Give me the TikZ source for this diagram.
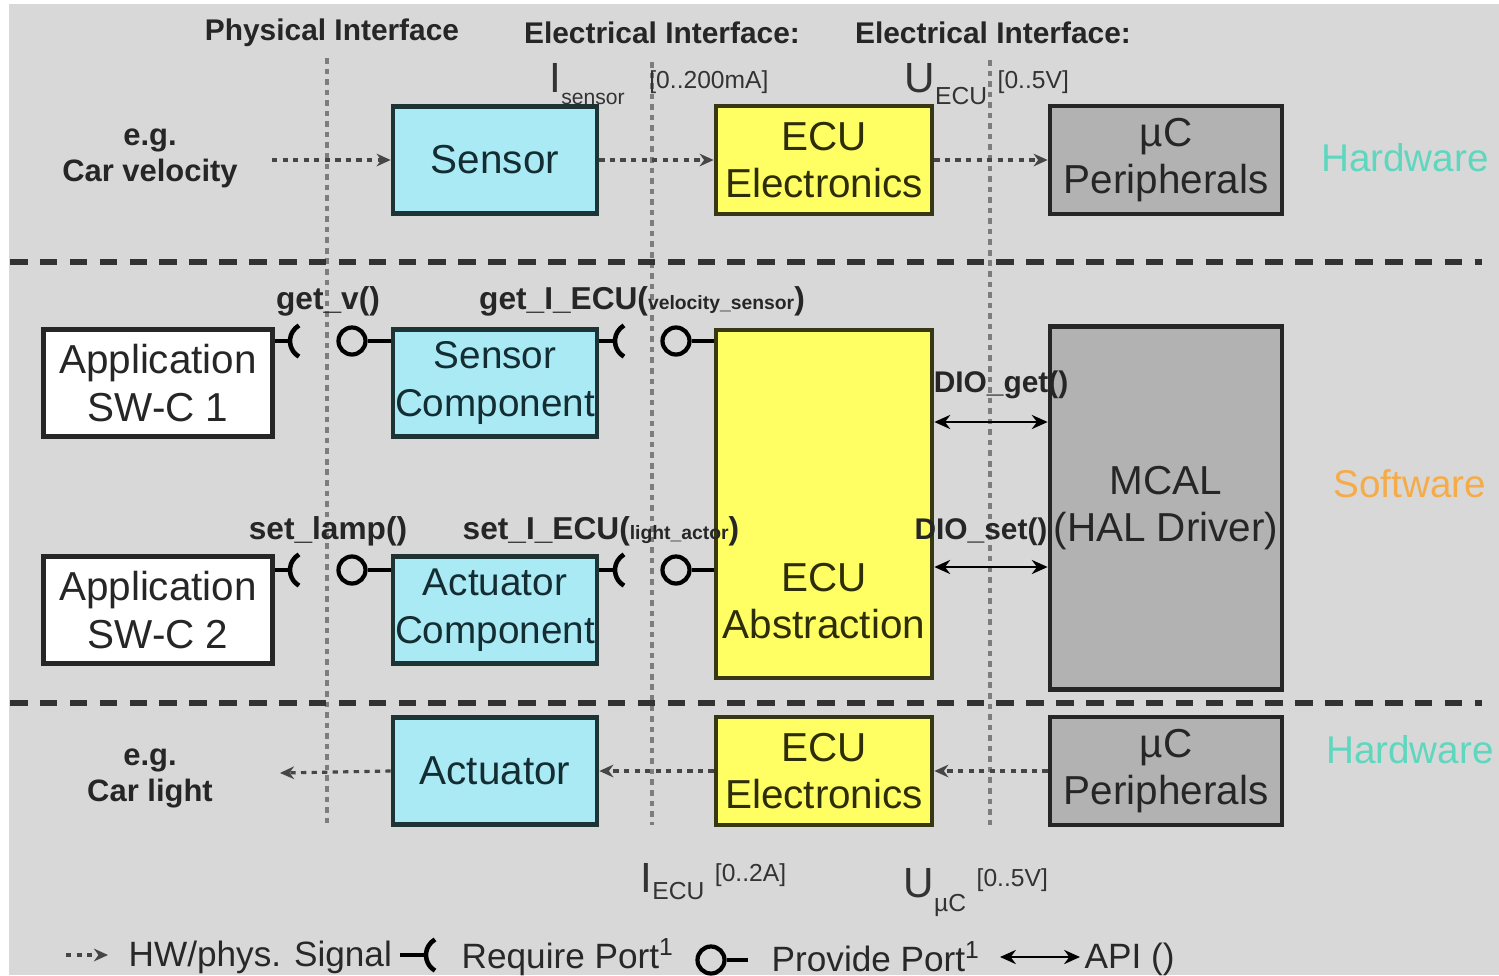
\documentclass[tikz,border=0pt]{standalone}
\usepackage{fontspec}
\setmainfont{Liberation Sans}
\usetikzlibrary{
    arrows.meta,
    positioning,
    calc
}
\definecolor{bgPage}{RGB}{216, 216, 216}
\definecolor{bgCyan}{RGB}{170, 234, 245}
\definecolor{borderCyan}{RGB}{30, 52, 52}
\definecolor{textCyan}{RGB}{20, 45, 50}
\definecolor{bgYellow}{RGB}{255, 255, 100}
\definecolor{borderYellow}{RGB}{55, 55, 20}
\definecolor{textYellow}{RGB}{45, 45, 10}
\definecolor{bgMcu}{RGB}{178, 178, 178}
\definecolor{borderDark}{RGB}{38, 38, 38}
\definecolor{colorHardware}{RGB}{95, 215, 190}
\definecolor{colorSoftware}{RGB}{245, 172, 72}
\definecolor{guideGray}{RGB}{125, 125, 125}
\definecolor{signalGray}{RGB}{70, 70, 70}
\definecolor{layerDark}{RGB}{50, 50, 50}
\definecolor{legendGray}{RGB}{40, 40, 40}
\tikzset{
    boxBase/.style={
        rectangle, line width=1.3pt,
        align=center, inner sep=0pt,
        font=\fontsize{11.5}{13.6}\selectfont
    },
    boxSensor/.style={
        boxBase, draw=borderCyan, fill=bgCyan, text=textCyan,
        minimum width=2.04cm, minimum height=1.07cm
    },
    boxComp/.style={
        boxSensor, font=\fontsize{11}{13.6}\selectfont
    },
    boxEcu/.style={
        boxBase, draw=borderYellow, fill=bgYellow, text=textYellow,
        minimum width=2.16cm, minimum height=1.08cm
    },
    boxMcu/.style={
        boxBase, draw=borderDark, fill=bgMcu, text=black!85,
        minimum width=2.32cm, minimum height=1.08cm
    },
    boxApp/.style={
        boxBase, draw=borderDark, fill=white, text=black!85,
        minimum width=2.29cm, minimum height=1.07cm
    },
    signalArrow/.style={
        -{Stealth[length=4pt,width=3.6pt]},
        line width=0.9pt, color=signalGray,
        dash pattern=on 1.5pt off 1.5pt
    },
    apiArrow/.style={
        {Stealth[length=4.5pt,width=4pt]}-{Stealth[length=4.5pt,width=4pt]},
        line width=0.8pt, color=black
    },
    portLine/.style={line width=1.3pt, color=black},
    providePort/.style={
        circle, draw=black, line width=1.2pt,
        minimum size=0.27cm, inner sep=0pt
    },
    guideLine/.style={
        line width=0.9pt, color=guideGray,
        dash pattern=on 1.6pt off 1.4pt
    },
    layerLine/.style={
        line width=1.5pt, color=layerDark,
        dash pattern=on 5pt off 3.5pt
    },
    headerLabel/.style={font=\fontsize{8.5}{10}\selectfont\bfseries, text=black!85},
    portLabel/.style={font=\fontsize{9}{10}\selectfont\bfseries, inner sep=0pt, text=black!85},
    layerLabel/.style={font=\fontsize{11}{13}\selectfont},
    exampleLabel/.style={
        font=\fontsize{8.8}{10.2}\selectfont\bfseries,
        align=center, text=black!85
    },
    quantityLabel/.style={anchor=base west, inner sep=0pt, text=black!80},
    legendLabel/.style={
        font=\fontsize{10}{12}\selectfont,
        anchor=west, inner sep=0pt, text=legendGray
    },
}

\begin{document}
\begin{tikzpicture}[x=0.01cm, y=-0.01cm]

    % ----------------------------------------------------------
    % FONDO (coordenadas en pixeles, y hacia abajo)
    % ----------------------------------------------------------
    \useasboundingbox (0,0) rectangle (1499,975);
    \fill[white] (0,0) rectangle (1499,975);
    \fill[bgPage] (9,4) rectangle (1499,975);

    % lineas guia verticales
    \draw[guideLine] (327,58) -- (327,825);
    \draw[guideLine] (652,62) -- (652,825);
    \draw[guideLine] (990,60) -- (990,825);

    % separadores de capa
    \draw[layerLine] (10,262) -- (1482,262);
    \draw[layerLine] (10,703) -- (1482,703);

    % ----------------------------------------------------------
    % CABECERAS
    % ----------------------------------------------------------
    \node[headerLabel] at (332,33) (hdrPhys)  {Physical Interface};
    \node[headerLabel] at (662,33) (hdrElecA) {Electrical Interface:};
    \node[headerLabel] at (993,33) (hdrElecB) {Electrical Interface:};

    \node[quantityLabel] at (549,92) (iSensor)
        {\fontsize{12}{14}\selectfont I\raisebox{-3.5pt}{\fontsize{6}{7}\selectfont sensor}\hspace{7pt}\raisebox{1pt}{\fontsize{7}{8}\selectfont[0..200mA]}};
    \node[quantityLabel] at (904,92) (uEcu)
        {\fontsize{12}{14}\selectfont U\raisebox{-3.5pt}{\fontsize{7}{8}\selectfont ECU}\hspace{3pt}\raisebox{1pt}{\fontsize{7}{8}\selectfont[0..5V]}};
    \node[quantityLabel] at (640,892) (iEcu)
        {\fontsize{12}{14}\selectfont I\raisebox{-2pt}{\fontsize{7}{8}\selectfont ECU}\hspace{3pt}\raisebox{3pt}{\fontsize{7}{8}\selectfont[0..2A]}};
    \node[quantityLabel] at (903,897) (uMc)
        {\fontsize{12}{14}\selectfont U\raisebox{-4pt}{\fontsize{7}{8}\selectfont µC}\hspace{3pt}\raisebox{3pt}{\fontsize{7}{8}\selectfont[0..5V]}};

    % ----------------------------------------------------------
    % HARDWARE (entrada)
    % ----------------------------------------------------------
    \node[exampleLabel] at (150,158) (carVelocity) {e.g.\\Car velocity};
    \node[boxSensor]    at (495,160) (sensor)      {Sensor};
    \node[boxEcu]       at (824,160) (ecuIn)       {ECU\\Electronics};
    \node[boxMcu]       at (1166,160) (mcuIn)      {µC\\Peripherals};
    \node[layerLabel, text=colorHardware] at (1405,158) (hwTop) {Hardware};

    \coordinate (velocitySrc) at (272,160);
    \draw[signalArrow] (velocitySrc)  -- (sensor.west);
    \draw[signalArrow] (sensor.east)  -- (ecuIn.west);
    \draw[signalArrow] (ecuIn.east)   -- (mcuIn.west);

    % ----------------------------------------------------------
    % SOFTWARE
    % ----------------------------------------------------------
    \node[boxApp]  at (158,383) (appOne)    {Application\\SW-C 1};
    \node[boxComp] at (495,383) (sensorComp){Sensor\\Component};
    \node[boxApp]  at (158,610) (appTwo)    {Application\\SW-C 2};
    \node[boxComp] at (495,610) (actorComp) {Actuator\\Component};
    \node[boxEcu, minimum height=3.48cm] at (824,504) (ecuAbs) {};
    \node[boxBase, text=textYellow] at (824,601) (ecuAbsText) {ECU\\Abstraction};
    \node[boxMcu, minimum height=3.63cm] at (1166,508) (mcal) {MCAL\\(HAL Driver)};
    \node[layerLabel, text=colorSoftware] at (1410,484) (swMid) {Software};

    % ---- puertos fila 1 ----
    \coordinate (reqGetV)  at (290,341);
    \coordinate (reqGetI)  at (615,341);
    \node[providePort] at (352,341) (provGetV) {};
    \node[providePort] at (676,341) (provGetI) {};
    \draw[portLine] (appOne.east |- reqGetV) -- (reqGetV);
    \draw[portLine] (reqGetV) ++(9,15.6) arc[start angle=120, end angle=240, radius=18];
    \draw[portLine] (provGetV.east) -- (sensorComp.west |- provGetV);
    \draw[portLine] (sensorComp.east |- reqGetI) -- (reqGetI);
    \draw[portLine] (reqGetI) ++(9,15.6) arc[start angle=120, end angle=240, radius=18];
    \draw[portLine] (provGetI.east) -- (ecuAbs.west |- provGetI);

    % ---- puertos fila 2 ----
    \coordinate (reqSetLamp) at (290,570);
    \coordinate (reqSetI)    at (615,570);
    \node[providePort] at (352,570) (provSetLamp) {};
    \node[providePort] at (676,570) (provSetI)    {};
    \draw[portLine] (appTwo.east |- reqSetLamp) -- (reqSetLamp);
    \draw[portLine] (reqSetLamp) ++(9,15.6) arc[start angle=120, end angle=240, radius=18];
    \draw[portLine] (provSetLamp.east) -- (actorComp.west |- provSetLamp);
    \draw[portLine] (actorComp.east |- reqSetI) -- (reqSetI);
    \draw[portLine] (reqSetI) ++(9,15.6) arc[start angle=120, end angle=240, radius=18];
    \draw[portLine] (provSetI.east) -- (ecuAbs.west |- provSetI);

    \node[portLabel] at (328,301) (lblGetV) {get\_v()};
    \node[portLabel] at (642,301) (lblGetI)
        {get\_I\_ECU({\fontsize{5.5}{6}\selectfont velocity\_sensor})};
    \node[portLabel] at (328,531) (lblSetLamp) {set\_lamp()};
    \node[portLabel] at (601,531) (lblSetI)
        {set\_I\_ECU({\fontsize{5.5}{6}\selectfont light\_actor})};

    % ---- API hacia MCAL ----
    \coordinate (apiGet) at (990,422);
    \coordinate (apiSet) at (990,567);
    \draw[apiArrow] (ecuAbs.east |- apiGet) -- (mcal.west |- apiGet);
    \draw[apiArrow] (ecuAbs.east |- apiSet) -- (mcal.west |- apiSet);
    \node[portLabel, font=\fontsize{8.5}{10}\selectfont\bfseries] at (1001,385) (lblDioGet) {DIO\_get()};
    \node[portLabel, font=\fontsize{8.5}{10}\selectfont\bfseries] at (981,532) (lblDioSet) {DIO\_set()};

    % ----------------------------------------------------------
    % HARDWARE (salida)
    % ----------------------------------------------------------
    \node[exampleLabel] at (150,778) (carLight) {e.g.\\Car light};
    \node[boxSensor]    at (495,771) (actuator) {Actuator};
    \node[boxEcu]       at (824,771) (ecuOut)   {ECU\\Electronics};
    \node[boxMcu]       at (1166,771) (mcuOut)  {µC\\Peripherals};
    \node[layerLabel, text=colorHardware] at (1410,750) (hwBottom) {Hardware};

    \coordinate (lightSink) at (280,773);
    \draw[signalArrow] (mcuOut.west)   -- (ecuOut.east);
    \draw[signalArrow] (ecuOut.west)   -- (actuator.east);
    \draw[signalArrow] (actuator.west) -- (lightSink);

    % ----------------------------------------------------------
    % LEYENDA
    % ----------------------------------------------------------
    \coordinate (legSigStart) at (66,955);
    \coordinate (legSigEnd)   at (108,955);
    \draw[signalArrow] (legSigStart) -- (legSigEnd);
    \node[legendLabel] at (128,957) (legSignal) {HW/phys. Signal};

    \coordinate (legReqStart) at (400,955);
    \coordinate (legReq)      at (426,955);
    \draw[portLine] (legReqStart) -- (legReq);
    \draw[portLine] (legReq) ++(9,15.6) arc[start angle=120, end angle=240, radius=18];
    \node[legendLabel] at (461,957) (legRequire) {Require Port\textsuperscript{1}};

    \node[providePort] at (711,960) (legProv) {};
    \coordinate (legProvEnd) at (748,960);
    \draw[portLine] (legProv.east) -- (legProvEnd);
    \node[legendLabel] at (771,957) (legProvide) {Provide Port\textsuperscript{1}};

    \coordinate (legApiStart) at (1000,957);
    \coordinate (legApiEnd)   at (1080,957);
    \draw[apiArrow] (legApiStart) -- (legApiEnd);
    \node[legendLabel] at (1084,959) (legApi) {API ()};

\end{tikzpicture}
\end{document}
